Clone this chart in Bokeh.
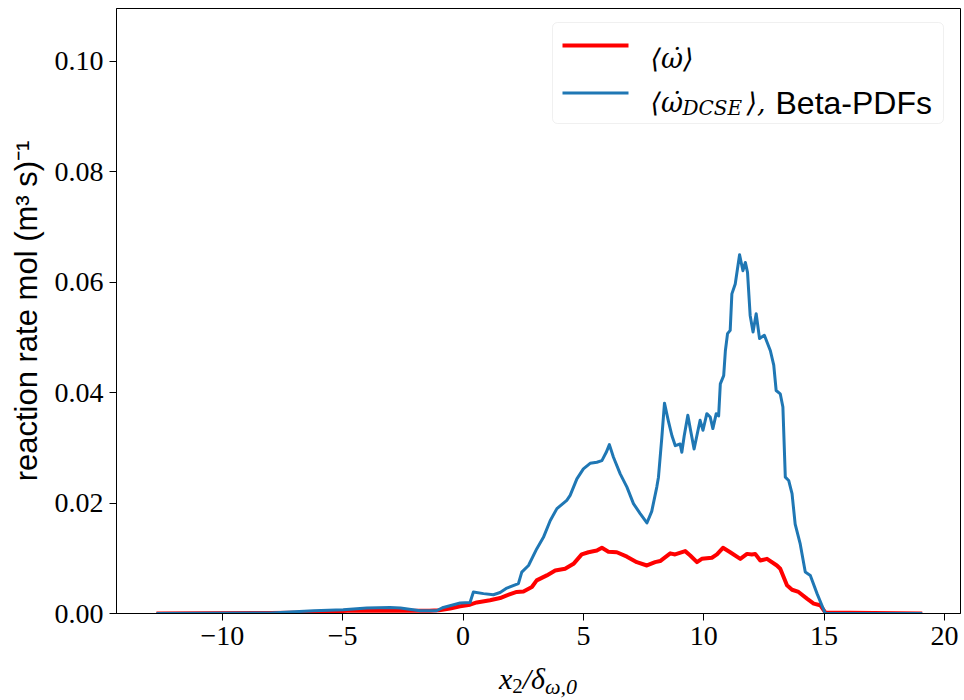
from bokeh.plotting import figure
from bokeh.layouts import column
from bokeh.models import (FixedTicker, CustomJSTickFormatter, NumeralTickFormatter,
                          Range1d, Label, BoxAnnotation, Div)
from bokeh.embed import file_html
from bokeh.resources import INLINE

# ---- data ----
red_x = [-12.74, -8.0, -6.1, -4.8, -3.0, -1.4, -1.0, -0.54, -0.12, 0.29, 0.57, 1.12, 1.54,
         1.82, 2.23, 2.51, 2.86, 3.06, 3.48, 3.83, 4.24, 4.59, 4.93, 5.21, 5.56, 5.77, 6.04,
         6.39, 6.81, 7.22, 7.64, 7.98, 8.19, 8.61, 8.81, 9.23, 9.44, 9.72, 9.92, 10.34, 10.55,
         10.80, 11.10, 11.52, 11.80, 12.00, 12.14, 12.35, 12.63, 13.04, 13.18, 13.46, 13.67,
         13.94, 14.29, 14.57, 14.84, 15.05, 19.08]
red_y = [0.0, 0.0001, 0.0002, 0.0005, 0.0005, 0.0005, 0.0006, 0.0009, 0.0013, 0.0016, 0.0020,
         0.0024, 0.0028, 0.0033, 0.0039, 0.0040, 0.0048, 0.0060, 0.0069, 0.0078, 0.0081, 0.0090,
         0.0107, 0.0111, 0.0114, 0.0119, 0.0112, 0.0111, 0.0103, 0.0093, 0.0087, 0.0093, 0.0095,
         0.0109, 0.0107, 0.0113, 0.0105, 0.0093, 0.0099, 0.0101, 0.0107, 0.0119, 0.0111, 0.0099,
         0.0108, 0.0107, 0.0108, 0.0096, 0.0099, 0.0087, 0.0081, 0.0051, 0.0043, 0.0039, 0.0027,
         0.0018, 0.0015, 0.0002, 0.0]

blue_x = [-12.74, -8.0, -6.2, -4.98, -4.0, -3.04, -2.6, -1.79, -1.1, -0.82, -0.12, 0.29, 0.43,
          0.85, 1.26, 1.54, 1.82, 2.30, 2.44, 2.72, 3.06, 3.34, 3.62, 3.90, 4.31, 4.45, 4.73,
          5.00, 5.28, 5.56, 5.77, 5.95, 6.08, 6.25, 6.53, 6.81, 7.08, 7.36, 7.64, 7.84, 8.05,
          8.12, 8.26, 8.37, 8.54, 8.68, 8.82, 9.02, 9.09, 9.19, 9.34, 9.44, 9.60, 9.85, 9.97,
          10.13, 10.27, 10.38, 10.52, 10.62, 10.69, 10.83, 10.90, 10.99, 11.10, 11.17, 11.31,
          11.49, 11.63, 11.73, 11.82, 11.93, 12.05, 12.18, 12.32, 12.52, 12.77, 12.91, 13.01,
          13.18, 13.29, 13.39, 13.53, 13.67, 13.80, 14.01, 14.22, 14.43, 14.71, 15.05, 19.08]
blue_y = [0.0, 0.0001, 0.0005, 0.0007, 0.0010, 0.0011, 0.0010, 0.0005, 0.0005, 0.0011, 0.0019,
          0.0020, 0.0039, 0.0036, 0.0034, 0.0038, 0.0046, 0.0054, 0.0075, 0.0087, 0.0117, 0.0138,
          0.0168, 0.0190, 0.0205, 0.0214, 0.0244, 0.0262, 0.0272, 0.0274, 0.0277, 0.0292, 0.0306,
          0.0283, 0.0253, 0.0229, 0.0199, 0.0181, 0.0164, 0.0185, 0.0229, 0.0247, 0.0319, 0.0381,
          0.0347, 0.0322, 0.0304, 0.0307, 0.0292, 0.0322, 0.0359, 0.0335, 0.0298, 0.0350, 0.0332,
          0.0362, 0.0356, 0.0335, 0.0362, 0.0358, 0.0416, 0.0431, 0.0476, 0.0507, 0.0513, 0.0579,
          0.0597, 0.0650, 0.0621, 0.0636, 0.0618, 0.0540, 0.0510, 0.0543, 0.0498, 0.0504, 0.0476,
          0.0450, 0.0404, 0.0398, 0.0374, 0.0247, 0.0241, 0.0217, 0.0162, 0.0126, 0.0075, 0.0069,
          0.0036, 0.0, 0.0]

x_ticks = [-10, -5, 0, 5, 10, 15, 20]
y_ticks = [0.0, 0.02, 0.04, 0.06, 0.08, 0.10]
y_axis_label = "reaction rate mol (m³ s)⁻¹"
x_label_html = ("x<sub style='font-size:21px;font-style:normal;vertical-align:-4px;line-height:0'>2</sub>"
                "/δ<sub style='font-size:22px;vertical-align:-5px;line-height:0'>ω,0</sub>")
legend_1 = "⟨ω̇⟩"
legend_2_a = "⟨ω̇"
legend_2_sub = "DCSE"
legend_2_b = "⟩,"
legend_2_c = "Beta-PDFs"

RED = "#ff0000"
BLUE = "#1f77b4"
SERIF = "Liberation Serif"
MATH = "DejaVu Serif"
SANS = "Liberation Sans"

p = figure(width=962, height=655, output_backend="svg", toolbar_location=None,
           x_range=Range1d(-14.40, 20.67), y_range=Range1d(0, 0.1096),
           min_border_left=116, min_border_right=2, min_border_top=8, min_border_bottom=42)

p.line(red_x, red_y, line_color=RED, line_width=4, line_join="round")
p.line(blue_x, blue_y, line_color=BLUE, line_width=3, line_join="round")

p.xgrid.visible = False
p.ygrid.visible = False
p.outline_line_color = "black"
p.outline_line_alpha = 1
p.outline_line_width = 1

p.xaxis.ticker = FixedTicker(ticks=x_ticks)
p.yaxis.ticker = FixedTicker(ticks=y_ticks)
p.xaxis.formatter = CustomJSTickFormatter(
    code="return tick < 0 ? '\\u2212' + String(-tick) : String(tick);")
p.yaxis.formatter = NumeralTickFormatter(format="0.00")

for ax in (p.xaxis[0], p.yaxis[0]):
    ax.axis_line_color = "black"
    ax.major_tick_line_color = "black"
    ax.major_tick_out = 7
    ax.major_tick_in = 0
    ax.minor_tick_out = 0
    ax.minor_tick_in = 0
    ax.major_label_text_font = SERIF
    ax.major_label_text_font_size = "28px"
    ax.major_label_text_color = "black"
    ax.major_label_standoff = 6

p.yaxis.axis_label = y_axis_label
p.yaxis.axis_label_text_font = SANS
p.yaxis.axis_label_text_font_size = "31px"
p.yaxis.axis_label_text_font_style = "normal"
p.yaxis.axis_label_text_color = "black"
p.yaxis.axis_label_standoff = 8

# legend (drawn manually to allow math-like subscripts)
p.add_layout(BoxAnnotation(left=436, right=827, top=591, bottom=490,
                           left_units="screen", right_units="screen",
                           top_units="screen", bottom_units="screen",
                           fill_color="white", fill_alpha=0.8,
                           line_color="#cccccc", line_width=1, border_radius=5))
p.add_layout(BoxAnnotation(left=446, right=512, top=570, bottom=566,
                           left_units="screen", right_units="screen",
                           top_units="screen", bottom_units="screen",
                           fill_color=RED, fill_alpha=1, line_alpha=0))
p.add_layout(BoxAnnotation(left=446, right=512, top=522, bottom=519,
                           left_units="screen", right_units="screen",
                           top_units="screen", bottom_units="screen",
                           fill_color=BLUE, fill_alpha=1, line_alpha=0))

p.add_layout(Label(x=534, y=555, x_units="screen", y_units="screen", text=legend_1,
                   text_font=MATH, text_font_style="italic", text_font_size="27px",
                   text_color="black", text_baseline="alphabetic"))
p.add_layout(Label(x=534, y=511, x_units="screen", y_units="screen", text=legend_2_a,
                   text_font=MATH, text_font_style="italic", text_font_size="27px",
                   text_color="black", text_baseline="alphabetic"))
p.add_layout(Label(x=566, y=506, x_units="screen", y_units="screen", text=legend_2_sub,
                   text_font=MATH, text_font_style="italic", text_font_size="20px",
                   text_color="black", text_baseline="alphabetic"))
p.add_layout(Label(x=630, y=511, x_units="screen", y_units="screen", text=legend_2_b,
                   text_font=MATH, text_font_style="italic", text_font_size="27px",
                   text_color="black", text_baseline="alphabetic"))
p.add_layout(Label(x=659, y=511, x_units="screen", y_units="screen", text=legend_2_c,
                   text_font=SANS, text_font_size="32px", text_color="black",
                   text_baseline="alphabetic"))

# x-axis label (with subscripts) as real HTML text below the plot
xlabel = Div(text=x_label_html, width=962, height=44,
             styles={"margin-left": "116px", "width": "844px", "text-align": "center",
                     "font-family": "'Liberation Serif', serif", "font-size": "30px",
                     "font-style": "italic", "line-height": "38px", "color": "black"})

layout = column(p, xlabel, spacing=0)
open("out.html", "w").write(file_html(layout, INLINE))
